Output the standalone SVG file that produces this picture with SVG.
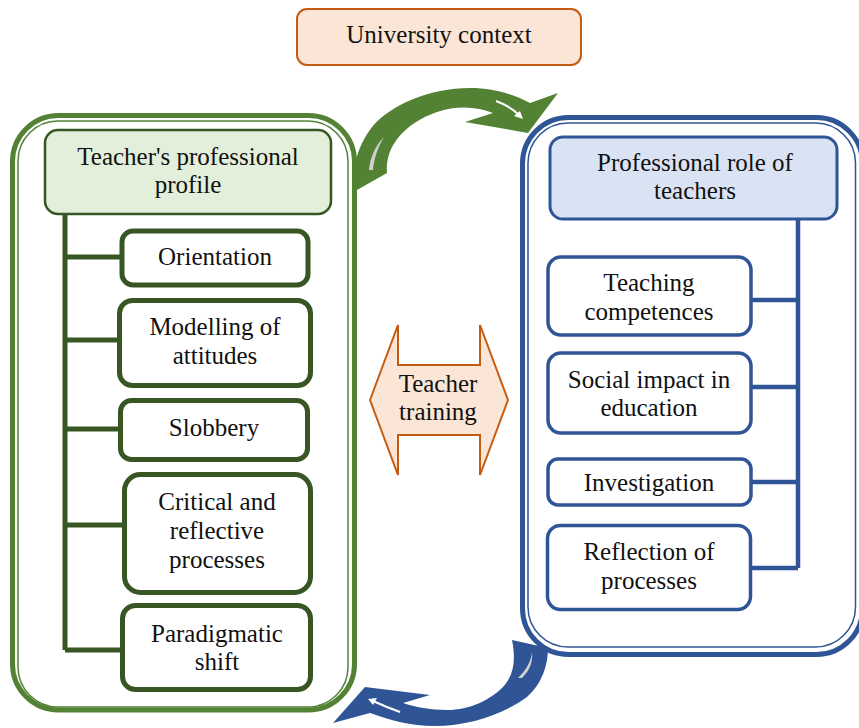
<svg xmlns="http://www.w3.org/2000/svg" width="859" height="728" viewBox="0 0 859 728">
<style>
text{font-family:"Liberation Serif","Times New Roman",serif;font-size:25px;fill:#111;text-anchor:middle}
.gOut{fill:none;stroke:#548235}
.bOut{fill:none;stroke:#2f5597}
.gBox{fill:#fff;stroke:#375623;stroke-width:5}
.bBox{fill:#fff;stroke:#2f5597;stroke-width:3.5}
.gLine{fill:none;stroke:#375623;stroke-width:5}
.bLine{fill:none;stroke:#2f5597;stroke-width:4.5}
.org{fill:#fbe5d6;stroke:#c55a11;stroke-width:2}
</style>
<rect width="859" height="728" fill="#fff"/>

<g id="left-container">
<rect class="gOut" x="12.5" y="115.5" width="342" height="594.5" rx="46" stroke-width="5"/>
<rect class="gOut" x="18" y="121" width="330" height="586" rx="40" stroke-width="1.5"/>
</g>
<g id="right-container">
<rect class="bOut" x="522.5" y="117.5" width="340" height="537" rx="46" stroke-width="5"/>
<rect class="bOut" x="528" y="123" width="327.5" height="524" rx="40" stroke-width="1.5"/>
</g>

<g id="connectors">
<path class="gLine" d="M65,215 V650 M65,257 H122 M65,340 H119 M65,429 H120 M65,525 H124 M65,650 H122"/>
<path class="bLine" d="M798,220 V568 M751,300 H798 M751,387 H798 M751,482 H798 M751,568 H798"/>
<g id="green-arrow">
<path fill="#548235" d="M357,190 L387,173 C385,150 400,125 437,112 C458,105 478,107 493,113 L465,122 L528,133 L558,93 L530,103 C515,95 495,88 470,88 C430,88 390,105 372,127 C358,145 350,170 357,190 Z"/>
<path fill="#d0d0d0" d="M384,137 C375,146 370,158 369,170 L373,170 C374,158 378,147 384,137 Z"/>
<path fill="none" stroke="#fff" stroke-width="2" d="M496,101 Q510,106 519,115"/>
<path fill="#fff" d="M523,119 L514,116 L520,111 Z"/>
</g>
<g id="blue-arrow">
<path fill="#2f5597" d="M512,640 C516,660 514,675 503,687 C490,700 470,710 447,710 C430,710 415,707 403,703 L430,695 L365,687 L333,723 L370,713 C390,720 410,726 435,726 C470,726 505,713 527,697 C542,684 548,665 548,648 Z"/>
<path fill="#d0d0d0" d="M532,652 C531,662 526,670 518,678 L522,678 C530,670 533,662 532,652 Z"/>
<path fill="none" stroke="#fff" stroke-width="2" d="M400,712 Q386,707 373,701"/>
<path fill="#fff" d="M368,699 L377,698 L373,705 Z"/>
</g>
</g>

<g id="university-context">
<rect class="org" x="297" y="9" width="284" height="56" rx="10"/>
<text x="439" y="43">University context</text>
</g>

<g id="teacher-training">
<polygon class="org" points="370,400 398,325 398,365 480,365 480,325 508,400 480,475 480,435 398,435 398,475"/>
<text x="438" y="392">Teacher</text>
<text x="438" y="420">training</text>
</g>

<g id="teachers-professional-profile">
<rect x="45" y="130" width="286" height="84" rx="13" fill="#e2efda" stroke="#375623" stroke-width="2.5"/>
<text x="188" y="165">Teacher's professional</text>
<text x="188" y="193">profile</text>
</g>
<g id="orientation">
<rect class="gBox" x="122" y="231" width="186" height="54" rx="11"/>
<text x="215" y="265">Orientation</text>
</g>
<g id="modelling">
<rect class="gBox" x="119.5" y="300.5" width="191" height="85" rx="13"/>
<text x="215" y="335">Modelling of</text>
<text x="215" y="364">attitudes</text>
</g>
<g id="slobbery">
<rect class="gBox" x="120.5" y="400.5" width="187" height="59" rx="11"/>
<text x="214" y="436">Slobbery</text>
</g>
<g id="critical">
<rect class="gBox" x="124.5" y="474.5" width="186" height="118" rx="16"/>
<text x="217" y="510">Critical and</text>
<text x="217" y="539">reflective</text>
<text x="217" y="568">processes</text>
</g>
<g id="paradigmatic">
<rect class="gBox" x="122.5" y="605.5" width="188" height="84" rx="13"/>
<text x="217" y="642">Paradigmatic</text>
<text x="217" y="670">shift</text>
</g>

<g id="professional-role">
<rect x="550" y="137" width="287" height="82" rx="13" fill="#dae3f3" stroke="#2f5597" stroke-width="3"/>
<text x="695" y="171">Professional role of</text>
<text x="695" y="199">teachers</text>
</g>
<g id="teaching-competences">
<rect class="bBox" x="548" y="257" width="203" height="78" rx="13"/>
<text x="649" y="291">Teaching</text>
<text x="649" y="320">competences</text>
</g>
<g id="social-impact">
<rect class="bBox" x="548" y="353" width="203" height="80" rx="13"/>
<text x="649" y="388">Social impact in</text>
<text x="649" y="416">education</text>
</g>
<g id="investigation">
<rect class="bBox" x="548" y="459" width="203" height="46" rx="10"/>
<text x="649" y="491">Investigation</text>
</g>
<g id="reflection">
<rect class="bBox" x="547.5" y="525.5" width="203" height="84" rx="13"/>
<text x="649" y="560">Reflection of</text>
<text x="649" y="589">processes</text>
</g>
</svg>
